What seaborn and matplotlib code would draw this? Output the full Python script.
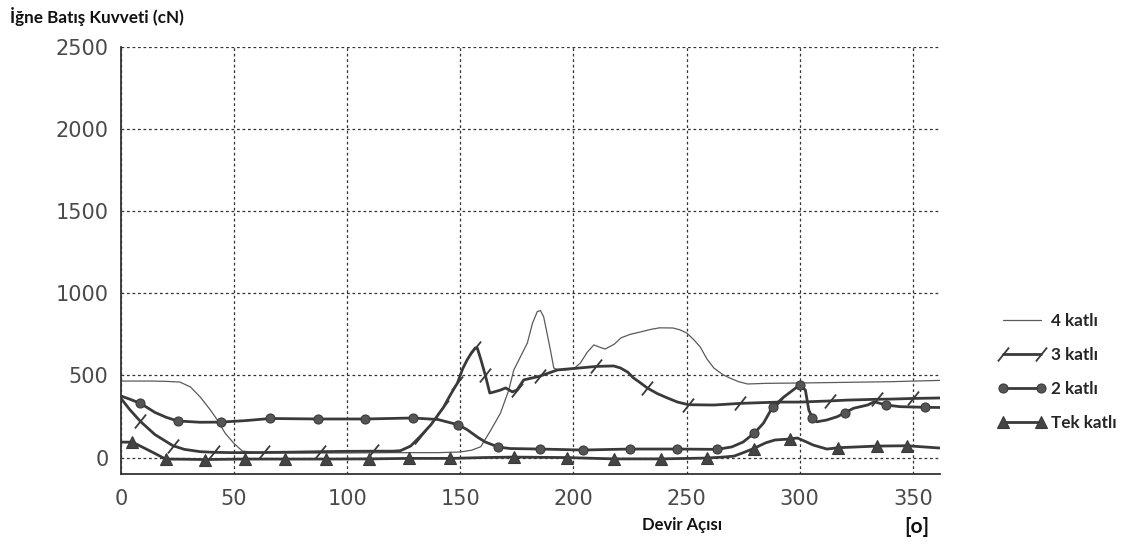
import numpy as np
import pandas as pd
import matplotlib
matplotlib.use("Agg")
import matplotlib.pyplot as plt
from matplotlib.ticker import MultipleLocator
from matplotlib.legend_handler import HandlerLine2D
import seaborn as sns

# ---- data ----
x4 = [0, 13, 20, 26, 30.7, 35, 39.5, 42.6, 46, 49.8, 53.6, 60, 80, 100, 120, 140, 150, 155,
      159, 163.5, 167.7, 171.4, 173.6, 176.6, 179.6, 181.9, 184, 185.4, 186.8, 188.3, 189.8,
      191.3, 194, 200, 203, 206, 209, 212, 214, 218, 221, 225, 229.6, 234, 238, 244, 247, 250,
      253, 256, 259, 262, 266, 269, 273, 277, 285, 300, 320, 340, 362]
y4 = [466, 466, 464, 460, 430, 369, 290, 229, 149, 88, 40, 30, 28, 28, 30, 30, 34, 45,
      66, 168, 270, 411, 533, 615, 697, 819, 889, 895, 858, 758, 655,
      545, 530, 540, 575, 640, 686, 670, 661, 690, 729, 750, 765, 780, 790, 789, 778, 759,
      720, 674, 600, 546, 505, 485, 462, 448, 452, 454, 458, 462, 470]

x3 = [0, 4, 8.6, 15, 23, 28, 35, 41, 50, 63, 75, 88, 100, 111.6, 120, 123.5, 128, 132, 137, 142.5,
      145.5, 148.7, 151, 153, 155, 156.6, 157.5, 159, 161, 163, 165, 167.7, 170, 173, 175, 178,
      185, 188, 193, 203, 210, 217.7, 220.7, 224, 226.5, 229.6, 232.6, 237, 241.5, 246, 250.8,
      262, 273.8, 280, 291, 300, 313.5, 321, 334, 340, 350, 362]
y3 = [360, 290, 220, 140, 72, 50, 36, 32, 30, 31, 33, 36, 38, 39, 39, 42, 70, 125, 200, 305,
      380, 454, 540, 595, 640, 668, 666, 600, 503, 393, 400, 411, 424, 400, 411, 473,
      495, 510, 534, 546, 555, 558, 546, 520, 485, 455, 424, 390, 363, 338, 322,
      320, 330, 333, 338, 338, 345, 350, 355, 356, 360, 363]
m3 = [8.6, 23, 41, 63, 88, 111.6, 132, 142.5, 148.7, 156.6, 161, 175, 185, 210, 232.6, 250.8,
      273.8, 291, 313.5, 334, 350]

x2 = [0, 4, 8.6, 15, 20, 25, 35, 44, 55, 66, 87, 108, 129, 140, 149, 153, 157.5, 161, 166.8, 172,
      185, 204, 225, 245.6, 263.6, 270, 275, 280, 284, 288, 293, 300, 302.5, 304, 305.6, 307.6,
      312, 316.6, 320, 323.7, 330, 333, 338, 344.4, 355.5, 362]
y2 = [375, 355, 330, 275, 245, 223, 215, 216, 225, 238, 235, 235, 241, 232, 200, 170, 125, 95, 64, 55,
      52, 46, 52, 52, 50, 65, 95, 150, 210, 308, 369, 442, 411, 290, 241, 218,
      229, 249, 273, 300, 320, 340, 320, 310, 306, 305]
m2 = [8.6, 25, 44, 66, 87, 108, 129, 149, 166.8, 185, 204, 225, 245.6, 263.6, 280, 288, 300,
      305.6, 320, 338, 355.5]

x1 = [0, 5, 10, 15, 19.7, 28, 37, 54.6, 72.7, 90.8, 109.8, 127.5, 145.6, 160, 173.6, 197.2, 210,
      218, 238.8, 258.8, 266, 271, 276, 279.6, 285, 289, 295.5, 299, 303, 306, 312, 317, 334,
      347.5, 362]
y1 = [94, 94, 60, 25, -9, -10, -12, -9, -9, -9, -8, -5, -5, 0, 3, 0, -5,
      -8, -8, -3, 3, 9, 35, 55, 90, 107, 113, 119, 95, 76, 52, 60, 70,
      72, 58]
m1 = [5, 19.7, 37, 54.6, 72.7, 90.8, 109.8, 127.5, 145.6, 173.6, 197.2, 218, 238.8, 258.8,
      279.6, 295.5, 317, 334, 347.5]

labels = ["4 katlı", "3 katlı", "2 katlı", "Tek katlı"]
x_ticks = [0, 50, 100, 150, 200, 250, 300, 350]
y_ticks = [0, 500, 1000, 1500, 2000, 2500]

# ---- style ----
sns.set_theme(style="white")
plt.rcParams["font.family"] = ["DejaVu Sans"]

W, H = 1124, 549
fig = plt.figure(figsize=(W / 100, H / 100), dpi=100)
ax = fig.add_axes([121 / W, 1 - 474 / H, 819 / W, 427 / H])

dark = "#3a3a3a"
slash = [(-0.8, -1.0), (0.8, 1.0)]


def idx(xs, ms):
    s = set(ms)
    return [i for i, v in enumerate(xs) if v in s]


sns.lineplot(x=x4, y=y4, ax=ax, color="#5a5a5a", lw=0.9, estimator=None, sort=False,
             label=labels[0])
sns.lineplot(x=x3, y=y3, ax=ax, color=dark, lw=2.0, estimator=None, sort=False,
             marker=slash, markevery=idx(x3, m3), markersize=10, markeredgewidth=1.3,
             markeredgecolor=dark, label=labels[1])
sns.lineplot(x=x2, y=y2, ax=ax, color=dark, lw=2.0, estimator=None, sort=False,
             marker="o", markevery=idx(x2, m2), markersize=6.5, markeredgewidth=0.8,
             markeredgecolor=dark, markerfacecolor="#555555", label=labels[2])
sns.lineplot(x=x1, y=y1, ax=ax, color=dark, lw=2.0, estimator=None, sort=False,
             marker="^", markevery=idx(x1, m1), markersize=8, markeredgewidth=0.8,
             markeredgecolor=dark, markerfacecolor="#444444", label=labels[3])

ax.set_xlim(0, 362)
ax.set_ylim(-100, 2500)
ax.set_xticks(x_ticks)
ax.set_yticks(y_ticks)
ax.xaxis.set_minor_locator(MultipleLocator(10))
ax.yaxis.set_minor_locator(MultipleLocator(50))
ax.grid(True, which="major", linestyle=(0, (2.2, 2.2)), color="#333333", lw=0.9)
ax.set_axisbelow(True)

for s in ["top", "right"]:
    ax.spines[s].set_visible(False)
for s in ["left", "bottom"]:
    ax.spines[s].set_color("#333333")
    ax.spines[s].set_linewidth(1.3)

ax.tick_params(axis="both", which="both", direction="out", color="#333333", width=1.0)
ax.tick_params(axis="y", which="major", length=5, pad=4)
ax.tick_params(axis="y", which="minor", length=3)
ax.tick_params(axis="x", which="both", length=5, pad=6)
for lab in ax.get_xticklabels() + ax.get_yticklabels():
    lab.set_fontsize(15)
    lab.set_color("#4a4a4a")
ax.set_xlabel("")
ax.set_ylabel("")

handles, labs = ax.get_legend_handles_labels()
ax.get_legend().remove()
fig.legend(handles, labs, loc="upper left", bbox_to_anchor=(993 / W, 1 - 313 / H),
           frameon=False, handlelength=3.4, handletextpad=0.0, labelspacing=1.05,
           borderpad=0, borderaxespad=0, numpoints=2,
           handler_map={h: HandlerLine2D(marker_pad=0.6) for h in handles},
           prop={"family": "Lato", "weight": "bold", "size": 12.3})

fig.text(10 / W, 1 - 17 / H, "İğne Batış Kuvveti (cN)", fontfamily="Lato", fontweight="bold",
         fontsize=12.3, va="center", ha="left", color="#111111")
fig.text(682 / W, 1 - 525 / H, "Devir Açısı", fontfamily="Lato", fontweight="bold",
         fontsize=12, va="center", ha="center", color="#111111")
fig.text(917 / W, 1 - 527 / H, "[o]", fontfamily="Lato", fontweight="bold",
         fontsize=15, va="center", ha="center", color="#111111")

fig.savefig("out.png", dpi=100)
